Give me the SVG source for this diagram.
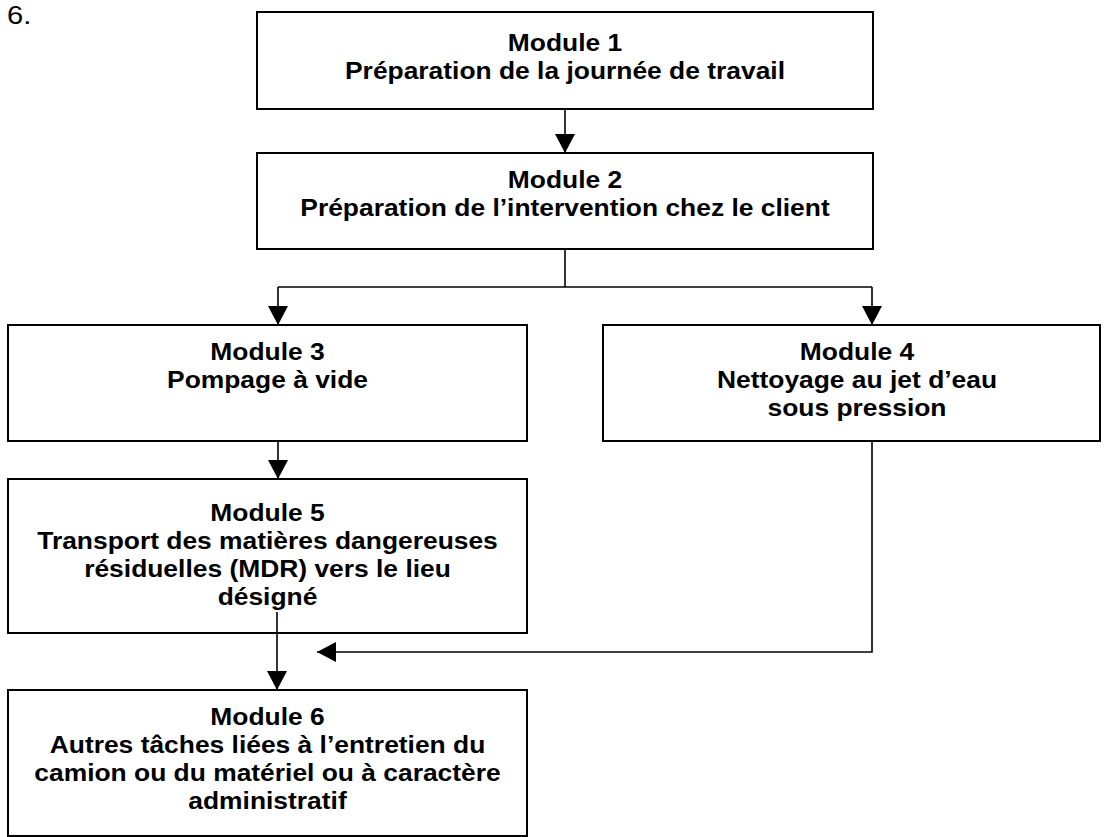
<svg xmlns="http://www.w3.org/2000/svg" width="1110" height="837" viewBox="0 0 1110 837">
<defs>
<marker id="arr" viewBox="0 0 19 20" refX="19" refY="10" markerWidth="19" markerHeight="20" markerUnits="userSpaceOnUse" orient="auto">
<path d="M0,0 L19,10 L0,20 z" fill="#000"/>
</marker>
<style>
.box{fill:#fff;stroke:#000;stroke-width:2}
.t{font-family:"Liberation Sans",Arial,sans-serif;font-weight:bold;font-size:24px;text-anchor:middle;fill:#000}
.c{fill:none;stroke:#000;stroke-width:1.6}
.num{font-family:"Liberation Sans",Arial,sans-serif;font-size:26px;fill:#000}
</style>
</defs>
<rect width="1110" height="837" fill="#fff"/>
<g transform="translate(7,0) scale(1.12,1)"><text class="num" x="0" y="24">6.</text></g>
<g id="connectors">
<line class="c" x1="565" y1="109" x2="565" y2="153" marker-end="url(#arr)"/>
<polyline class="c" points="565,249 565,287"/>
<polyline class="c" points="278,287 872,287"/>
<line class="c" x1="278" y1="287" x2="278" y2="325" marker-end="url(#arr)"/>
<line class="c" x1="872" y1="287" x2="872" y2="325" marker-end="url(#arr)"/>
<line class="c" x1="278" y1="441" x2="278" y2="479" marker-end="url(#arr)"/>
<polyline class="c" points="872,441 872,652 317,652" marker-end="url(#arr)"/>
</g>
<g id="m1">
<rect class="box" x="257" y="12" width="616" height="97"/>
<g transform="translate(565,0) scale(1.1,1)">
<text class="t" x="0" y="51">Module 1</text>
<text class="t" x="0" y="79">Préparation de la journée de travail</text>
</g>
</g>
<g id="m2">
<rect class="box" x="257" y="153" width="616" height="96"/>
<g transform="translate(565,0) scale(1.1,1)">
<text class="t" x="0" y="188">Module 2</text>
<text class="t" x="0" y="216">Préparation de l’intervention chez le client</text>
</g>
</g>
<g id="m3">
<rect class="box" x="8" y="325" width="519" height="116"/>
<g transform="translate(267.5,0) scale(1.1,1)">
<text class="t" x="0" y="360">Module 3</text>
<text class="t" x="0" y="388">Pompage à vide</text>
</g>
</g>
<g id="m4">
<rect class="box" x="603" y="325" width="497" height="116"/>
<g transform="translate(857,0) scale(1.1,1)">
<text class="t" x="0" y="360">Module 4</text>
<text class="t" x="0" y="388">Nettoyage au jet d’eau</text>
<text class="t" x="0" y="416">sous pression</text>
</g>
</g>
<g id="m5">
<rect class="box" x="8" y="479" width="519" height="154"/>
<g transform="translate(267.5,0) scale(1.1,1)">
<text class="t" x="0" y="521">Module 5</text>
<text class="t" x="0" y="549">Transport des matières dangereuses</text>
<text class="t" x="0" y="577">résiduelles (MDR) vers le lieu</text>
<text class="t" x="0" y="605">désigné</text>
</g>
</g>
<g id="m6">
<rect class="box" x="8" y="690" width="519" height="146"/>
<g transform="translate(267.5,0) scale(1.1,1)">
<text class="t" x="0" y="725">Module 6</text>
<text class="t" x="0" y="753">Autres tâches liées à l’entretien du</text>
<text class="t" x="0" y="781">camion ou du matériel ou à caractère</text>
<text class="t" x="0" y="809">administratif</text>
</g>
</g>
<g id="connectors-top">
<line class="c" x1="277" y1="612" x2="277" y2="690" marker-end="url(#arr)"/>
</g>
</svg>
